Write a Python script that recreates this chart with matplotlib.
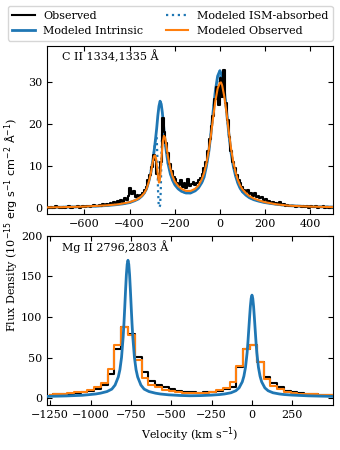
import numpy as np
import matplotlib
matplotlib.use("Agg")
import matplotlib.pyplot as plt
from matplotlib.lines import Line2D

plt.rcParams['font.family'] = ['DejaVu Serif']
plt.rcParams['mathtext.fontset'] = 'dejavusans'
plt.rcParams['font.size'] = 8

# ---------------- C II 1334,1335 ----------------
cii_obs_v = np.arange(-765, 500, 8)
cii_obs_f = [
    0.1, -0.2, 0.2, 0.0, -0.1, 0.3, 0.1, -0.2, 0.0, 0.2, -0.1, 0.1, 0.3, 0.0, -0.2, 0.2, 0.1,
    0.3, 0.0, 0.2, 0.4, 0.1, 0.3, 0.5, 0.2, 0.4, 0.6, 0.3, 0.5, 0.7, 0.4, 0.8, 0.6,
    0.9, 0.6, 1.1, 0.8, 1.3, 1.0, 1.5, 1.2, 1.8, 1.4, 2.2, 1.8, 2.8, 4.6, 3.2, 4.0, 2.6, 3.0, 2.7,
    3.0, 3.6, 4.2, 5.0, 6.5, 7.8, 9.8, 12.6, 11.5, 8.0, 7.2, 11.0, 21.5, 18.0, 15.5, 13.0,
    10.5, 8.8, 7.4, 6.8,
    6.0, 5.4, 6.6, 5.0, 5.8, 4.6, 6.9, 5.2, 5.6, 6.2, 5.3, 6.0, 6.5,
    7.0, 8.0, 9.5, 11.0, 13.5, 16.5, 19.5, 22.0, 26.0, 29.0, 24.5, 31.0, 26.5, 33.0, 25.0,
    21.0, 17.0,
    13.5, 11.0, 9.5, 7.8, 6.5, 5.8, 4.9, 4.2, 3.8, 4.3, 3.2, 3.6, 2.8, 3.4, 2.6, 2.9, 2.2,
    2.5, 1.8, 2.0, 1.5, 1.7, 1.2, 1.4, 1.0, 1.2, 0.8, 1.3, 0.7, 0.9, 0.5, 0.7, 0.4, 0.5,
    0.3, 0.5, 0.2, 0.4, 0.3, 0.1, 0.4, 0.2, 0.3, 0.0, 0.3, 0.2, 0.1, 0.3, 0.0, 0.2, 0.1,
    0.3, -0.1, 0.2, 0.0, 0.1, 0.2,
]

cii_int_v = [-765, -700, -650, -600, -550, -500, -460, -430, -400, -380, -360, -345, -335,
             -325, -315, -305, -295, -290, -285, -280, -275, -270, -265, -260, -255, -250,
             -245, -240, -230, -220, -210, -200, -185, -170, -150, -130, -110, -95, -80,
             -70, -60, -50, -40, -30, -20, -10, 0, 10, 20, 30, 40, 50, 60, 70, 80, 90, 100,
             115, 130, 150, 175, 200, 250, 300, 350, 400, 500]
cii_int_f = [0.05, 0.1, 0.15, 0.25, 0.35, 0.5, 0.7, 0.9, 1.2, 1.6, 2.1, 2.8, 3.5,
             4.5, 6.3, 8.6, 12.0, 14.2, 16.5, 19.0, 22.0, 24.3, 25.5, 24.8, 22.8, 20.0,
             17.0, 14.5, 10.6, 8.2, 6.6, 5.5, 4.5, 3.9, 3.5, 3.5, 4.0, 4.7, 6.0,
             7.3, 9.8, 13.0, 17.5, 23.0, 28.0, 31.5, 32.8, 31.5, 28.0, 23.0, 17.5, 13.0,
             9.8, 7.5, 5.8, 4.6, 3.8, 3.0, 2.4, 1.9, 1.5, 1.2, 0.8, 0.5, 0.35, 0.25, 0.12]

cii_ism_v = [-765, -600, -500, -400, -360, -335, -315, -295, -285, -280, -277, -274, -271,
             -268, -265, -262, -259, -256, -253, -250, -245, -240, -230, -220, -200, -170,
             -150, -130, -110, -80, -60, -40, -20, 0, 20, 40, 60, 80, 100, 130, 175, 250,
             350, 500]
cii_ism_f = [0.05, 0.25, 0.5, 1.2, 2.1, 3.5, 6.3, 12.0, 16.5, 17.0, 12.0, 4.0, 0.5,
             0.1, 0.5, 4.0, 12.0, 18.0, 21.0, 20.0, 17.0, 14.5, 10.6, 8.2, 5.5, 3.9,
             3.5, 3.5, 4.0, 6.0, 9.8, 17.5, 28.0, 32.8, 28.0, 17.5, 9.8, 5.8, 3.8, 2.4,
             1.5, 0.8, 0.35, 0.12]

cii_mod_v = [-765, -700, -600, -500, -450, -400, -370, -350, -335, -325, -315, -305, -298,
             -292, -288, -283, -278, -273, -270, -267, -263, -258, -253, -248, -243, -238,
             -230, -220, -210, -200, -185, -170, -150, -130, -110, -95, -80, -70, -60,
             -50, -40, -30, -20, -10, 0, 5, 10, 20, 30, 40, 50, 60, 70, 80, 90, 100, 115,
             130, 150, 175, 200, 250, 300, 350, 400, 500]
cii_mod_f = [0.05, 0.1, 0.25, 0.55, 0.8, 1.3, 1.9, 2.6, 3.5, 4.5, 6.2, 8.5, 10.8,
             12.3, 12.5, 11.8, 9.5, 7.0, 6.0, 6.2, 8.5, 12.5, 15.8, 17.2, 16.8, 15.2,
             12.2, 9.5, 7.6, 6.3, 5.2, 4.5, 4.0, 4.0, 4.5, 5.3, 6.8, 8.3, 10.5,
             13.5, 17.2, 21.5, 25.5, 28.5, 29.9, 30.0, 29.3, 26.5, 22.5, 18.0, 14.0, 10.8,
             8.4, 6.6, 5.3, 4.4, 3.5, 2.8, 2.2, 1.7, 1.3, 0.8, 0.5, 0.35, 0.25, 0.12]

# ---------------- Mg II 2796,2803 ----------------
mgii_bin_v = [-1251, -1209, -1167, -1125, -1083, -1041, -999, -957, -915, -873, -831, -789,
              -747, -705, -663, -621, -579, -537, -495, -453, -411, -369, -327, -285,
              -243, -201, -159, -117, -75, -33, 9, 51, 93, 135, 177, 219, 261, 303, 345,
              387, 429, 471, 513]
mgii_obs_f = [4.0, 4.5, 5.0, 5.5, 6.0, 7.0, 9.0, 11.0, 16.0, 30.0, 60.0, 88.0,
              79.0, 51.0, 32.0, 21.0, 16.0, 13.0, 11.0, 9.0, 7.5, 7.0, 6.5, 7.0,
              7.5, 8.5, 11.0, 14.0, 38.0, 60.0, 66.0, 44.0, 26.0, 18.0, 13.0, 9.0, 7.0,
              6.0, 5.0, 4.5, 4.0, 3.5, 3.5]
mgii_mod_f = [4.0, 4.5, 5.0, 6.0, 7.0, 8.0, 10.0, 13.0, 19.0, 36.0, 65.0, 88.0,
              78.0, 47.0, 25.0, 16.0, 13.0, 10.5, 9.0, 7.5, 6.5, 6.0, 6.0, 6.5,
              8.0, 9.5, 12.0, 20.0, 39.0, 61.0, 65.0, 44.0, 23.0, 15.0, 11.0, 8.0, 6.5,
              5.5, 5.0, 4.5, 4.0, 3.5, 3.5]

mgii_int_v = [-1268, -1150, -1050, -1018, -968, -938, -898, -868, -848, -828, -818, -808,
              -798, -793, -788, -783, -778, -773, -768, -763, -758, -753, -748, -743,
              -738, -728, -718, -708, -688, -668, -638, -598, -568, -518, -450, -384,
              -318, -250, -200, -170, -130, -100, -80, -60, -50, -40, -30, -25, -20, -15,
              -10, -5, 0, 5, 10, 15, 20, 25, 30, 40, 50, 60, 80, 100, 130, 170, 200, 250,
              350, 500]
mgii_int_f = [2.0, 2.6, 3.4, 4.0, 5.0, 6.0, 8.0, 11.0, 16.0, 26.0, 35.0, 50.0,
              75.0, 92.0, 112.0, 133.0, 152.0, 165.0, 170.0, 165.0, 152.0, 133.0, 112.0, 92.0,
              75.0, 50.0, 35.0, 26.0, 16.0, 11.0, 8.0, 6.0, 5.0, 4.0, 3.2, 2.8,
              3.0, 3.6, 4.3, 5.0, 6.5, 9.0, 12.5, 20.0, 27.0, 38.0, 56.0, 69.0, 84.0, 99.0,
              113.0, 123.0, 127.0, 123.0, 113.0, 99.0, 84.0, 69.0, 56.0, 38.0, 27.0, 20.0,
              12.5, 9.0, 6.5, 5.0, 4.3, 3.6, 2.7, 2.0]

cii_xticks = [-600, -400, -200, 0, 200, 400]
cii_yticks = [0, 10, 20, 30]
mgii_xticks = [-1250, -1000, -750, -500, -250, 0, 250]
mgii_yticks = [0, 50, 100, 150, 200]

C_BLUE = '#1f77b4'
C_ORANGE = '#ff7f0e'

fig = plt.figure(figsize=(3.4, 4.5), dpi=100)
ax1 = fig.add_axes([0.139, 0.5238, 0.8395, 0.3747])
ax2 = fig.add_axes([0.139, 0.100, 0.8395, 0.3756])

# top panel
ax1.plot(cii_int_v, cii_int_f, color=C_BLUE, lw=2.0, zorder=2)
ax1.plot(cii_ism_v, cii_ism_f, color=C_BLUE, lw=1.6, ls=':', zorder=2)
ax1.plot(cii_obs_v, cii_obs_f, color='black', lw=1.5, drawstyle='steps-mid', zorder=3)
ax1.plot(cii_mod_v, cii_mod_f, color=C_ORANGE, lw=1.5, zorder=4)
ax1.set_xlim(-765, 500)
ax1.set_ylim(-1.6, 38.8)
ax1.set_xticks(cii_xticks)
ax1.set_yticks(cii_yticks)
ax1.text(0.05, 0.975, 'C II 1334,1335 Å', transform=ax1.transAxes, ha='left', va='top')

# bottom panel
ax2.plot(mgii_bin_v, mgii_obs_f, color='black', lw=1.5, drawstyle='steps-mid', zorder=2)
ax2.plot(mgii_bin_v, mgii_mod_f, color=C_ORANGE, lw=1.5, drawstyle='steps-mid', zorder=3)
ax2.plot(mgii_int_v, mgii_int_f, color=C_BLUE, lw=2.0, zorder=4)
ax2.set_xlim(-1268, 500)
ax2.set_ylim(-8.6, 200)
ax2.set_xticks(mgii_xticks)
ax2.set_yticks(mgii_yticks)
ax2.text(0.05, 0.975, 'Mg II 2796,2803 Å', transform=ax2.transAxes, ha='left', va='top')
ax2.set_xlabel(r'Velocity (km s$^{-1}$)')

for ax in (ax1, ax2):
    ax.tick_params(direction='in', top=True, right=True, labelsize=8)

fig.text(0.035, 0.5, r'Flux Density (10$^{-15}$ $\mathrm{erg\ s^{-1}\ cm^{-2}\ \AA^{-1}}$)',
         rotation=90, ha='center', va='center', fontsize=8)

handles = [
    Line2D([], [], color='black', lw=1.5),
    Line2D([], [], color=C_BLUE, lw=2.0),
    Line2D([], [], color=C_BLUE, lw=1.6, ls=':'),
    Line2D([], [], color=C_ORANGE, lw=1.5),
]
labels = ['Observed', 'Modeled Intrinsic', 'Modeled ISM-absorbed', 'Modeled Observed']
ax1.legend(handles, labels, ncol=2, loc='lower right', bbox_to_anchor=(1.0, 1.03),
           borderaxespad=0.0, fontsize=8)

fig.savefig('out.png', dpi=100)
